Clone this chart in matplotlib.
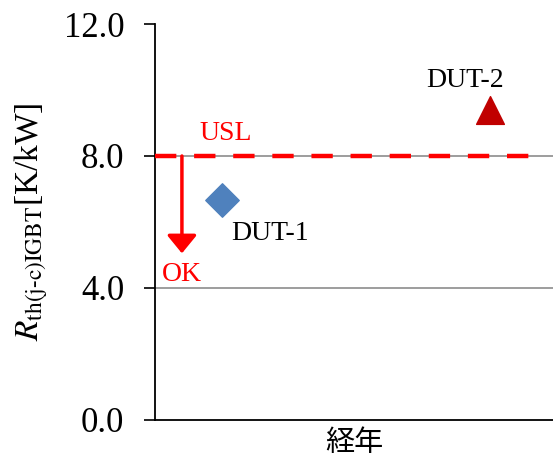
import matplotlib.pyplot as plt

plt.rcParams['font.family'] = ['Liberation Serif', 'Noto Sans CJK JP']
plt.rcParams['mathtext.fontset'] = 'stix'

# data
usl = 8.0
dut_names = ['DUT-1', 'DUT-2']
dut_x = [0.168, 0.842]
dut_y = [6.67, 9.4]
ok_arrow_end = 5.05
y_ticks = [0.0, 4.0, 8.0, 12.0]

fig = plt.figure(figsize=(5.53, 4.68), dpi=100)
ax = fig.add_axes([0.280, 0.1026, 0.72, 0.8461])

ax.set_xlim(0, 1)
ax.set_ylim(0, 12)
ax.set_yticks(y_ticks)
ax.set_yticklabels([f'{v:.1f}' for v in y_ticks], fontsize=25)
ax.set_xticks([])
for v in y_ticks[1:3]:
    ax.axhline(v, color='#8c8c8c', lw=1.2, zorder=1)

for s in ['top', 'right']:
    ax.spines[s].set_visible(False)
ax.spines['left'].set_linewidth(1.3)
ax.spines['bottom'].set_linewidth(1.3)
ax.tick_params(axis='y', length=8, width=1.2, pad=14)

# USL line
ax.plot([0, 0.945], [usl, usl], color='red', lw=3.2, dashes=(4.8, 4.0), zorder=3)
ax.text(0.113, usl + 0.3, 'USL', color='red', fontsize=20, ha='left', va='bottom')

# arrow
ax.annotate('', xy=(0.068, ok_arrow_end), xytext=(0.068, usl),
            arrowprops=dict(arrowstyle='-|>,head_length=0.55,head_width=0.45',
                            mutation_scale=20, color='red', lw=2.5,
                            shrinkA=0, shrinkB=0))
ax.text(0.068, ok_arrow_end - 0.25, 'OK', color='red', fontsize=20,
        ha='center', va='top')

# points
ax.scatter(dut_x[0], dut_y[0], marker='D', s=290, color='#4f81bd', zorder=4)
ax.scatter(dut_x[1], dut_y[1], marker='^', s=400, color='#c00000', zorder=4)
ax.text(dut_x[0] + 0.025, dut_y[0] - 0.65, dut_names[0], fontsize=20,
        ha='left', va='top')
ax.text(dut_x[1] - 0.063, 10.3, dut_names[1], fontsize=20,
        ha='center', va='center')

ax.set_ylabel(r'$R_{\mathrm{th(j\text{-}c)IGBT}}$[K/kW]', fontsize=24, labelpad=10)
ax.set_xlabel('経年', fontsize=21, family=['Noto Sans CJK JP'], labelpad=6)

fig.savefig('out.png', dpi=100)
